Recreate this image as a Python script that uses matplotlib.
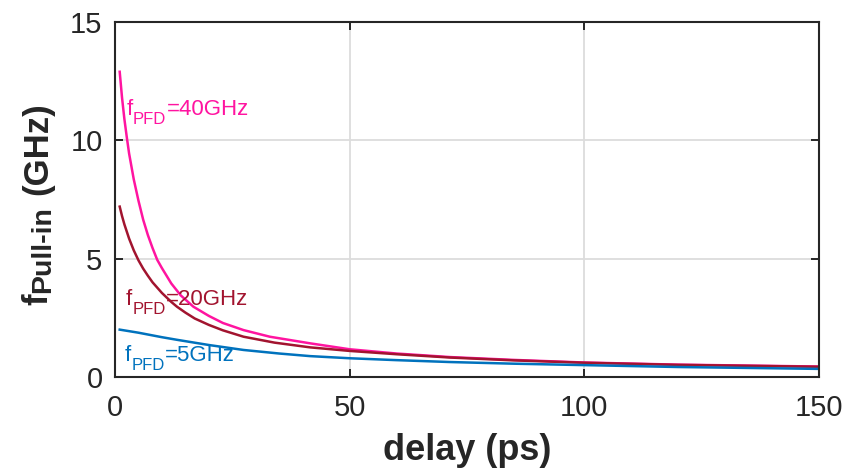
import matplotlib
matplotlib.use("Agg")
import matplotlib.pyplot as plt
from matplotlib.transforms import offset_copy

plt.rcParams["font.family"] = ["Liberation Sans", "DejaVu Sans"]

# delay (ps) vs pull-in range (GHz)
x_40 = [1, 1.5, 2, 2.5, 3, 3.5, 4, 5, 6, 7, 8, 9, 10, 12, 14, 16.7, 20, 23, 27.4, 33, 41.6, 50, 60, 71.4, 85, 100, 120, 150]
y_40 = [12.9, 11.8, 10.9, 10.15, 9.45, 8.9, 8.35, 7.45, 6.65, 6.0, 5.45, 4.95, 4.6, 3.95, 3.45, 2.97, 2.58, 2.28, 1.98, 1.7, 1.42, 1.17, 0.99, 0.84, 0.72, 0.61, 0.52, 0.44]

x_20 = [1, 1.5, 2, 3, 4, 5, 6, 7, 8, 10, 12, 13.2, 15, 17, 20, 23, 27.4, 34, 41.6, 50, 60, 71.4, 85, 100, 120, 150]
y_20 = [7.2, 6.8, 6.45, 5.85, 5.35, 4.93, 4.58, 4.28, 4.0, 3.55, 3.17, 2.97, 2.72, 2.47, 2.2, 1.97, 1.7, 1.45, 1.25, 1.1, 0.96, 0.82, 0.7, 0.6, 0.51, 0.43]

x_5 = [1, 5, 10, 13.2, 20, 27.4, 35, 41.6, 50, 60, 71.4, 85, 100, 120, 150]
y_5 = [2.0, 1.87, 1.68, 1.57, 1.35, 1.14, 0.99, 0.88, 0.79, 0.71, 0.63, 0.56, 0.5, 0.42, 0.34]

C40, C20, C5 = "#ff14a0", "#a2142f", "#0072bd"
DARK = "#262626"
DPI = 100


def sub_text(fig, base, x, y, parts, rotation=0, **kw):
    """Draw text pieces one after another; parts = (text, size, drop_pt, gap_pt)."""
    renderer = fig.canvas.get_renderer()
    adv = 0.0
    for s, size, drop, gap in parts:
        adv += gap * DPI / 72
        d = drop * DPI / 72
        dx, dy = (d, adv) if rotation == 90 else (adv, -d)
        tr = offset_copy(base, fig=fig, x=dx, y=dy, units="dots")
        t = fig.text(x, y, s, transform=tr, fontsize=size, rotation=rotation,
                     ha="left", va="baseline", rotation_mode="anchor", **kw)
        bb = t.get_window_extent(renderer)
        adv += bb.height if rotation == 90 else bb.width


fig = plt.figure(figsize=(8.5, 4.7), dpi=DPI)
ax = fig.add_axes([0.1353, 0.198, 0.828, 0.755])

ax.plot(x_40, y_40, color=C40, lw=1.8)
ax.plot(x_20, y_20, color=C20, lw=1.8)
ax.plot(x_5, y_5, color=C5, lw=1.8)

ax.set_xlim(0, 150)
ax.set_ylim(0, 15)
ax.set_xticks([0, 50, 100, 150])
ax.set_yticks([0, 5, 10, 15])
ax.grid(True, color="#dcdcdc", lw=1.3)
ax.set_axisbelow(True)
ax.tick_params(direction="in", length=6, width=1.4, colors=DARK, labelsize=21,
               top=True, right=True)
ax.tick_params(axis="x", pad=12)
ax.tick_params(axis="y", pad=9)
for s in ax.spines.values():
    s.set_color(DARK)
    s.set_linewidth(1.5)

ax.set_xlabel("delay (ps)", fontsize=26, fontweight="bold", color=DARK, labelpad=8)

# curve labels with subscripts
for lx, ly, txt, c in [(2.4, 11.07, "=40GHz", C40), (2.3, 3.03, "=20GHz", C20), (2.1, 0.69, "=5GHz", C5)]:
    sub_text(fig, ax.transData, lx, ly,
             [("f", 16, 0, 0), ("PFD", 12, 6.5, 0.3), (txt, 16, 0, 0.3)], color=c)

# y label: f_Pull-in (GHz)
sub_text(fig, fig.transFigure, 0.0553, 0.351,
         [("f", 25, 0, 0), ("Pull-in", 20.5, 2.5, 0.5), ("(GHz)", 25, 0, 8)],
         rotation=90, color=DARK, fontweight="bold")

fig.savefig("out.png", dpi=DPI)
